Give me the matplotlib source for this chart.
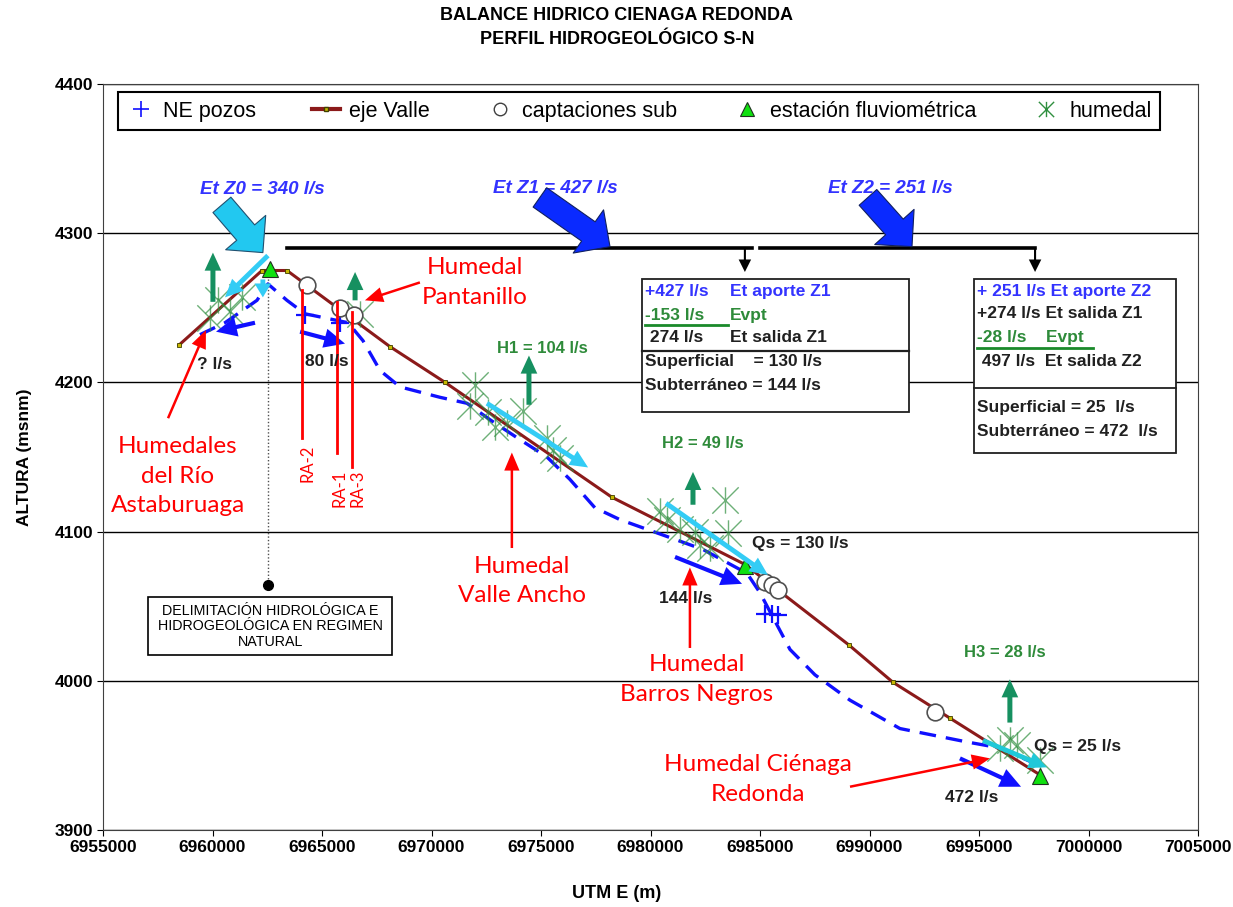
import matplotlib
matplotlib.use('Agg')
import matplotlib.pyplot as plt
from matplotlib.lines import Line2D
from matplotlib.patches import Rectangle
from matplotlib.path import Path

plt.rcParams['font.family'] = ['Liberation Sans', 'DejaVu Sans']

# ---------------- data ----------------
eje_x = [6958470, 6962260, 6963400, 6968100, 6970620, 6978240, 6984310,
         6989060, 6991070, 6993670, 6997780]
eje_y = [4225, 4275, 4275, 4224, 4200, 4123, 4078, 4024, 3999, 3975, 3937]

nivel_x = [6959430, 6960570, 6962030, 6962530, 6963400, 6964220, 6966190,
           6966870, 6967650, 6968560, 6970390, 6971620, 6972670, 6973900,
           6975270, 6976320, 6977460, 6978610, 6980890, 6982400, 6984410,
           6985000, 6986370, 6987510, 6989110, 6991390, 6994450, 6995960,
           6997330]
nivel_y = [4232, 4240, 4255, 4266, 4255, 4246, 4240, 4228, 4208, 4197, 4190,
           4186, 4175, 4163, 4150, 4135, 4116, 4108, 4096, 4088, 4072, 4059,
           4021, 4004, 3987, 3968, 3959, 3955, 3946]

pozos_x = [6964220, 6965820, 6985230, 6985550, 6985820]
pozos_y = [4245, 4240, 4045, 4045, 4044]

capt_x = [6964310, 6965820, 6966460, 6985230, 6985550, 6985820, 6992990]
capt_y = [4265, 4250, 4245, 4066, 4064, 4061, 3979]

estacion_x = [6962630, 6984310, 6997780]
estacion_y = [4276, 4077, 3936]

humedal_x = [6959890, 6960250, 6960800, 6961350, 6966730,
             6971990, 6971760, 6972580, 6972900, 6973450, 6974180, 6975270,
             6975550, 6975870,
             6980430, 6980750, 6981350, 6982030, 6982260, 6982720, 6983400,
             6983540,
             6995960, 6996410, 6996730, 6997780]
humedal_y = [4243, 4255, 4248, 4257, 4246,
             4198, 4184, 4180, 4170, 4173, 4181, 4163, 4155, 4149,
             4114, 4108, 4102, 4100, 4091, 4089, 4121, 4099,
             3955, 3960, 3957, 3947]

x_ticks = list(range(6955000, 7005001, 5000))
y_ticks = list(range(3900, 4401, 100))

# ---------------- styles ----------------
BROWN = '#8b1a1a'
BLUE = '#1010ff'
CYAN = '#33ccf5'
GREEN_A = '#169060'
GREEN_T = '#2e8b3a'
TXT_BLUE = '#3333ff'

ast = Path([(0, -1), (0, 1), (-1, -1), (1, 1), (-1, 1), (1, -1)],
           [Path.MOVETO, Path.LINETO, Path.MOVETO, Path.LINETO,
            Path.MOVETO, Path.LINETO])

fig = plt.figure(figsize=(12.33, 9.07), dpi=100)
ax = fig.add_axes([103 / 1233, 1 - 830 / 907, 1095 / 1233, 746 / 907])
ax.set_xlim(6955000, 7005000)
ax.set_ylim(3900, 4400)
ax.set_xticks(x_ticks)
ax.set_yticks(y_ticks)
ax.ticklabel_format(useOffset=False, style='plain')
ax.set_xticklabels([str(v) for v in x_ticks], fontweight='bold', fontsize=12.5)
ax.set_yticklabels([str(v) for v in y_ticks], fontweight='bold', fontsize=12.5)
ax.tick_params(length=4, pad=3)
ax.yaxis.grid(True, color='black', lw=1.0, zorder=0)
ax.set_axisbelow(True)
for s in ax.spines.values():
    s.set_color('#404040')

# series
ax.plot(nivel_x, nivel_y, color=BLUE, lw=2.4, dashes=(5, 3), zorder=3)
ax.plot(eje_x, eje_y, color=BROWN, lw=2.2, marker='s', ms=3.5,
        mfc='#c8b800', mec='#404000', mew=0.6, zorder=4)
ax.plot(humedal_x, humedal_y, ls='none', marker=ast, ms=19, mew=1.0,
        color='#2f8f3f', alpha=0.7, zorder=5)
ax.plot(pozos_x, pozos_y, ls='none', marker='+', ms=13, mew=1.6,
        color=BLUE, zorder=6)
ax.plot(capt_x, capt_y, ls='none', marker='o', ms=12, mfc='white',
        mec='#505050', mew=1.2, zorder=6)
ax.plot(estacion_x, estacion_y, ls='none', marker='^', ms=12,
        mfc='#10e010', mec='#203020', mew=0.8, zorder=7)


def arrow(start, end, color, tail, hw, hl, ec=None, lw=0.0, z=8):
    ax.annotate('', xy=end, xytext=start, zorder=z,
                arrowprops=dict(arrowstyle=f'simple,head_length={hl},head_width={hw},tail_width={tail}',
                                fc=color, ec=ec if ec else color, lw=lw,
                                shrinkA=0, shrinkB=0, mutation_scale=1))


# big flux arrows
arrow((6960430, 4319), (6962300, 4287), '#22c8f0', 17, 38, 19, ec='#205070', lw=0.8)
arrow((6974950, 4324), (6978150, 4291), '#0a2aff', 17, 38, 19, ec='#102060', lw=0.8)
arrow((6989930, 4324), (6991940, 4291), '#0a2aff', 17, 38, 19, ec='#102060', lw=0.8)

# black distribution lines
ax.plot([6963400, 6984630], [4290, 4290], color='black', lw=2.6, zorder=4)
ax.plot([6985000, 6997560], [4290, 4290], color='black', lw=2.6, zorder=4)
arrow((6984310, 4290), (6984310, 4274), 'black', 1.5, 9, 9)
arrow((6997560, 4290), (6997560, 4274), 'black', 1.5, 9, 9)

# evaporation (green up)
for (x, y0, y1) in [(6960020, 4254, 4287), (6966510, 4255, 4274),
                    (6974450, 4185, 4218), (6981940, 4118, 4140),
                    (6996410, 3972, 4001)]:
    arrow((x, y0), (x, y1), GREEN_A, 3.6, 12, 13)

# cyan arrows
arrow((6962530, 4285), (6960570, 4257), CYAN, 3.5, 12, 13)
arrow((6962300, 4269), (6962300, 4257), CYAN, 3.5, 12, 10)
arrow((6972530, 4186), (6977150, 4143), CYAN, 3.5, 12, 13)
arrow((6980710, 4119), (6985360, 4071), CYAN, 3.5, 12, 13)
arrow((6995180, 3960), (6998100, 3942), '#20c8d8', 3.5, 12, 13)

# blue arrows
arrow((6961940, 4240), (6960160, 4234), BLUE, 3, 14, 15)
arrow((6964000, 4234), (6966050, 4226), BLUE, 3, 14, 15)
arrow((6981120, 4083), (6984180, 4065), BLUE, 3, 14, 15)
arrow((6994130, 3948), (6996920, 3929), BLUE, 3, 14, 15)

# red pointer arrows
for s, e in [((6957970, 4176), (6959700, 4235)),
             ((6969470, 4267), (6966960, 4255)),
             ((6973670, 4089), (6973670, 4153)),
             ((6981800, 4022), (6981800, 4076)),
             ((6989110, 3929), (6995500, 3948))]:
    arrow(s, e, 'red', 1.8, 11, 13, z=9)

# RA lines
for x, y0, y1 in [(6964090, 4262, 4163), (6965680, 4254, 4153),
                  (6966370, 4247, 4143)]:
    ax.plot([x, x], [y0, y1], color='red', lw=2, zorder=9)

RED_FONT = dict(color='red', family=['Lato', 'DejaVu Sans'], fontsize=12,
                rotation=90, ha='center', va='center', zorder=10)
ax.text(6964360, 4146, 'RA-2', **RED_FONT)
ax.text(6965820, 4129, 'RA-1', **RED_FONT)
ax.text(6966640, 4129, 'RA-3', **RED_FONT)

# delimitation
ax.plot([6962530, 6962530], [4274, 4064], color='#505050', lw=1.0, ls=(0, (1, 1.5)), zorder=3)
ax.plot([6962530], [4064], marker='o', ms=7, color='black', zorder=4)
ax.add_patch(Rectangle((6957050, 4017), 11150, 39, fc='white', ec='black',
                       lw=1.2, zorder=8))
ax.text(6962630, 4036.5, 'DELIMITACIÓN HIDROLÓGICA E\nHIDROGEOLÓGICA EN REGIMEN\nNATURAL',
        ha='center', va='center', fontsize=10.3, linespacing=1.15, zorder=9)

# labels
ET = dict(color=TXT_BLUE, fontsize=13.5, fontweight='bold', style='italic',
          ha='center', va='center')
ax.text(6962260, 4329, 'Et Z0 = 340 l/s', **ET)
ax.text(6975640, 4330, 'Et Z1 = 427 l/s', **ET)
ax.text(6990930, 4330, 'Et Z2 = 251 l/s', **ET)

GT = dict(color=GREEN_T, fontsize=12, fontweight='bold', ha='center', va='center', zorder=10)
ax.text(6975050, 4223, 'H1 = 104 l/s', **GT)
ax.text(6982400, 4159, 'H2 = 49 l/s', **GT)
ax.text(6996190, 4019, 'H3 = 28 l/s', **GT)

BT = dict(color='#202020', fontsize=12.5, fontweight='bold', ha='center', va='center', zorder=10)
ax.text(6960110, 4212, '? l/s', **BT)
ax.text(6965230, 4214, '80 l/s', **BT)
ax.text(6981620, 4055, '144 l/s', **BT)
ax.text(6986830, 4092, 'Qs = 130 l/s', **BT)
ax.text(6999520, 3956, 'Qs = 25 l/s', **BT)
ax.text(6994680, 3922, '472 l/s', **BT)

RT = dict(color='red', family=['Lato', 'DejaVu Sans'], fontsize=17.5,
          ha='center', va='center', linespacing=1.5, zorder=10)
ax.text(6958420, 4137, 'Humedales\ndel Río\nAstaburuaga', **RT)
ax.text(6971990, 4267, 'Humedal\nPantanillo', **RT)
ax.text(6974130, 4067, 'Humedal\nValle Ancho', **RT)
ax.text(6982120, 4001, 'Humedal\nBarros Negros', **RT)
ax.text(6984910, 3934, 'Humedal Ciénaga\nRedonda', **RT)

# balance boxes
ax.add_patch(Rectangle((6979610, 4180), 12190, 89, fc='white', ec='#202020', lw=1.3, zorder=8))
ax.plot([6979610, 6991800], [4221, 4221], color='#202020', lw=1.6, zorder=9)
BX = dict(fontsize=12.5, fontweight='bold', ha='left', va='center', zorder=10)
ax.text(6979750, 4261, '+427 l/s', color=TXT_BLUE, **BX)
ax.text(6983630, 4261, 'Et aporte Z1', color=TXT_BLUE, **BX)
ax.text(6979750, 4245, '-153 l/s', color=GREEN_T, **BX)
ax.text(6983630, 4245, 'Evpt', color=GREEN_T, **BX)
ax.plot([6979750, 6983550], [4238.5, 4238.5], color='#1a8a2a', lw=2, zorder=10)
ax.text(6979750, 4230, ' 274 l/s', color='#202020', **BX)
ax.text(6983630, 4230, 'Et salida Z1', color='#202020', **BX)
ax.text(6979750, 4214, 'Superficial    = 130 l/s', color='#202020', **BX)
ax.text(6979750, 4198, 'Subterráneo = 144 l/s', color='#202020', **BX)

ax.add_patch(Rectangle((6994770, 4153), 9230, 116, fc='white', ec='#202020', lw=1.3, zorder=8))
ax.plot([6994770, 7004000], [4196, 4196], color='#202020', lw=1.3, zorder=9)
ax.text(6994910, 4261, '+ 251 l/s Et aporte Z2', color=TXT_BLUE, **BX)
ax.text(6994910, 4246, '+274 l/s Et salida Z1', color='#202020', **BX)
ax.text(6994910, 4230, '-28 l/s    Evpt', color=GREEN_T, **BX)
ax.plot([6994910, 7000200], [4223, 4223], color='#1a8a2a', lw=2, zorder=10)
ax.text(6994910, 4214, ' 497 l/s  Et salida Z2', color='#202020', **BX)
ax.text(6994910, 4183, 'Superficial = 25  l/s', color='#202020', **BX)
ax.text(6994910, 4167, 'Subterráneo = 472  l/s', color='#202020', **BX)

# legend
handles = [
    Line2D([], [], ls='none', marker='+', ms=12, mew=1.2, color=BLUE),
    Line2D([], [], color=BROWN, lw=3, marker='s', ms=3.5, mfc='#c8b800', mec='#404000'),
    Line2D([], [], ls='none', marker='o', ms=9, mfc='white', mec='#404040', mew=1),
    Line2D([], [], ls='none', marker='^', ms=10, mfc='#10e010', mec='#203020', mew=0.8),
    Line2D([], [], ls='none', marker=ast, ms=11, mew=1, color='#2f8f3f'),
]
labels = ['NE pozos', 'eje Valle', 'captaciones sub', 'estación fluviométrica', 'humedal']
leg = ax.legend(handles, labels, loc='upper left', ncol=5, mode='expand',
                bbox_to_anchor=(15 / 1095, (830 - 92) / 746 - 0.0536, 1042 / 1095, 0.0536),
                fontsize=15.5, frameon=True, fancybox=False, edgecolor='black',
                framealpha=1, handlelength=1.3, handletextpad=0.4,
                borderaxespad=0, borderpad=0.4)
leg.get_frame().set_linewidth(1.5)
leg.set_zorder(12)

# titles
fig.text(617 / 1233, 1 - 16 / 907, 'BALANCE HIDRICO CIENAGA REDONDA',
         ha='center', va='center', fontsize=13, fontweight='bold')
fig.text(617 / 1233, 1 - 40 / 907, 'PERFIL HIDROGEOLÓGICO S-N',
         ha='center', va='center', fontsize=13, fontweight='bold')
fig.text(617 / 1233, 1 - 893 / 907, 'UTM E (m)', ha='center', va='center',
         fontsize=13, fontweight='bold')
fig.text(25 / 1233, 1 - 457 / 907, 'ALTURA (msnm)', ha='center', va='center',
         fontsize=12.5, fontweight='bold', rotation=90)

fig.savefig('out.png', dpi=100)
